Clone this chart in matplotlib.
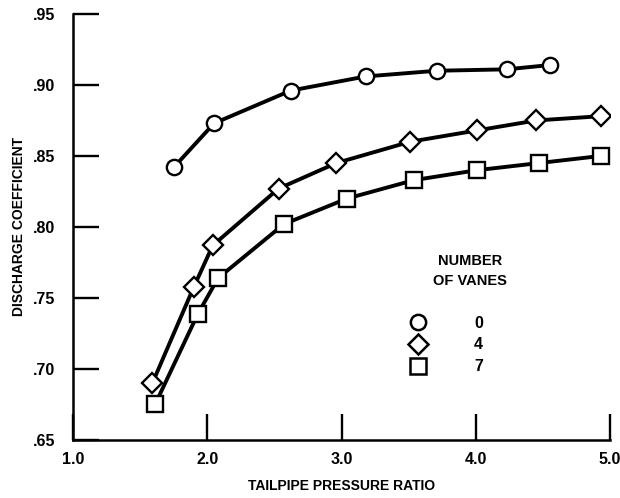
import matplotlib.pyplot as plt
from matplotlib.lines import Line2D

# values
x_0 = [1.75, 2.05, 2.62, 3.18, 3.71, 4.23, 4.55]
y_0 = [0.842, 0.873, 0.896, 0.906, 0.910, 0.911, 0.914]

x_4 = [1.59, 1.90, 2.04, 2.53, 2.96, 3.51, 4.01, 4.45, 4.93]
y_4 = [0.690, 0.758, 0.787, 0.827, 0.845, 0.860, 0.868, 0.875, 0.878]

x_7 = [1.61, 1.93, 2.08, 2.57, 3.04, 3.54, 4.01, 4.47, 4.93]
y_7 = [0.675, 0.739, 0.764, 0.802, 0.820, 0.833, 0.840, 0.845, 0.850]

vanes = ["0", "4", "7"]
xticks = [1.0, 2.0, 3.0, 4.0, 5.0]
yticks = [0.65, 0.70, 0.75, 0.80, 0.85, 0.90, 0.95]

plt.rcParams['font.family'] = ['Liberation Sans', 'DejaVu Sans']
plt.rcParams['font.weight'] = 'bold'
plt.rcParams['axes.labelweight'] = 'bold'

fig = plt.figure(figsize=(6.2, 4.98), dpi=100)
ax = fig.add_axes([0.118, 0.1165, 0.866, 0.8555])

mk = dict(color='black', lw=2.8, mfc='white', mec='black', mew=1.7, zorder=3)
ax.plot(x_0, y_0, marker='o', ms=11, **mk)
ax.plot(x_4, y_4, marker='D', ms=10, **mk)
ax.plot(x_7, y_7, marker='s', ms=11, **mk)

ax.set_xlim(1.0, 5.0)
ax.set_ylim(0.65, 0.95)
ax.set_xticks(xticks)
ax.set_xticklabels(["%.1f" % t for t in xticks])
ax.set_yticks(yticks)
ax.set_yticklabels([("%.2f" % t)[1:] for t in yticks])
ax.tick_params(direction='in', length=19, width=1.7, labelsize=11.5, color='black')
ax.tick_params(axis='x', pad=9)
ax.tick_params(axis='y', pad=13)
for s in ['top', 'right']:
    ax.spines[s].set_visible(False)
for s in ['left', 'bottom']:
    ax.spines[s].set_linewidth(1.8)

ax.set_xlabel("TAILPIPE PRESSURE RATIO", fontsize=10)
ax.xaxis.set_label_coords(0.5, -0.092)
ax.set_ylabel("DISCHARGE COEFFICIENT", fontsize=10)
ax.yaxis.set_label_coords(-0.088, 0.5)

# legend block
ax.text(0.739, 0.397, "NUMBER\nOF VANES", transform=ax.transAxes, ha='center',
        va='center', fontsize=10.5, linespacing=1.55)
handles = [Line2D([], [], ls='none', marker=m, ms=s, mfc='white', mec='black', mew=1.8)
           for m, s in zip(['o', 'D', 's'], [11, 10, 11])]
ax.legend(handles, vanes, frameon=False, loc='center',
          bbox_to_anchor=(0.688, 0.223), fontsize=11.5,
          handletextpad=2.5, labelspacing=0.42, borderpad=0)

plt.savefig("out.png", dpi=100)
